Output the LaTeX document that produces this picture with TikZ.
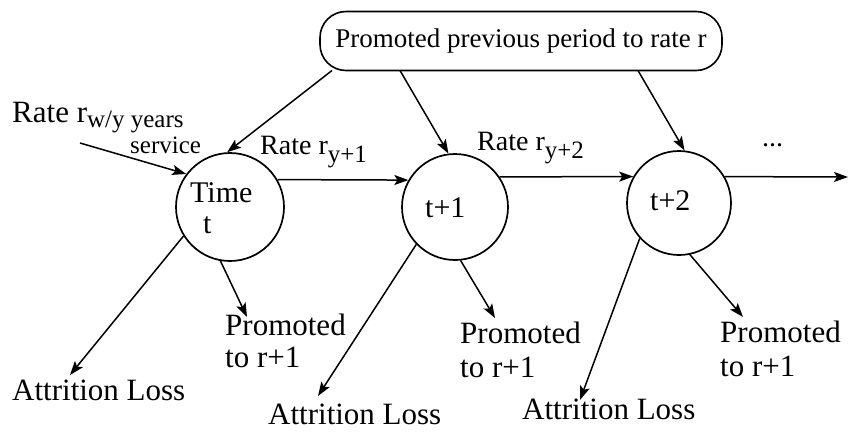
\documentclass[tikz,border=0pt]{standalone}
\usepackage{fontspec}
\setmainfont{Liberation Serif}
\usetikzlibrary{arrows.meta}
\newcommand{\fs}[1]{\fontsize{#1}{#1}\selectfont}
\newcommand{\subtxt}[1]{{\fs{25}#1}}
\begin{document}
\begin{tikzpicture}[x=1pt,y=-1pt,
  flow/.style={-{Stealth[length=14pt,width=10pt,inset=3pt]}, line width=1.5pt},
  period/.style={circle, draw, line width=1.7pt, minimum size=#1, inner sep=0pt},
  prevbox/.style={draw, line width=1.6pt, rounded corners=26pt, minimum width=402pt,
    minimum height=59pt, inner sep=0pt, font=\fs{27}},
  lbl/.style={inner sep=0pt, anchor=base west, font=\fs{31}},
  ratelbl/.style={inner sep=0pt, anchor=base west, font=\fs{28}},
  intxt/.style={inner sep=0pt, anchor=base west, font=\fs{30}}
]
\useasboundingbox (0,0) rectangle (854,432);

% box
\node[prevbox] (prev) at (521,41) {Promoted previous period to rate r};

% periods
\node[period=108pt] (c1) at (230,207) {};
\node[period=106pt] (c2) at (455,207) {};
\node[period=104pt] (c3) at (679,203) {};

\node[intxt] (c1a) at (190,202) {Time};
\node[intxt] (c1b) at (203,233) {t};
\node[intxt] (c2a) at (425,217) {t+1};
\node[intxt] (c3a) at (650,210) {t+2};

% labels
\node[lbl] (inlab) at (12,122) {Rate r\raisebox{-5pt}{\subtxt{w/y years}}};
\node[inner sep=0pt, anchor=base west, font=\fs{25}] (inlab2) at (130,153) {service};
\node[ratelbl] (r1) at (260,154) {Rate r\raisebox{-8pt}{\subtxt{y+1}}};
\node[ratelbl] (r2) at (477,150) {Rate r\raisebox{-8pt}{\subtxt{y+2}}};
\node[ratelbl] (dots) at (762,146) {...};

\node[lbl] (att1) at (12,400) {Attrition Loss};
\node[lbl] (att2) at (268,424) {Attrition Loss};
\node[lbl] (att3) at (522,419) {Attrition Loss};

\node[lbl] (pr1a) at (225,335) {Promoted};
\node[lbl] (pr1b) at (225,367) {to r+1};
\node[lbl] (pr2a) at (460,343) {Promoted};
\node[lbl] (pr2b) at (460,377) {to r+1};
\node[lbl] (pr3a) at (720,342) {Promoted};
\node[lbl] (pr3b) at (720,376) {to r+1};

% coordinates
\coordinate (p1) at (332,70.5);
\coordinate (p2) at (400,70.5);
\coordinate (p3) at (638,70.5);
\coordinate (inS) at (80,143);
\coordinate (outE) at (848,177);
\coordinate (ta1) at (70,375);
\coordinate (tp1) at (247,317);
\coordinate (ta2) at (318,396);
\coordinate (tp2) at (495,318);
\coordinate (ta3) at (580,400);
\coordinate (tp3) at (743,317);

% arrows
\draw[flow] (p1) -- (c1.93);
\draw[flow] (p2) -- (c2.97);
\draw[flow] (p3) -- (c3.84);
\draw[flow] (inS) -- (c1.143);
\draw[flow] (c1.30) -- (c2.150);
\draw[flow] (c2.34) -- (c3.150);
\draw[flow] (c3.30) -- (outE);
\draw[flow] (c1.212) -- (ta1);
\draw[flow] (c1.260) -- (tp1);
\draw[flow] (c2.224) -- (ta2);
\draw[flow] (c2.276) -- (tp2);
\draw[flow] (c3.222) -- (ta3);
\draw[flow] (c3.282) -- (tp3);
\end{tikzpicture}
\end{document}
